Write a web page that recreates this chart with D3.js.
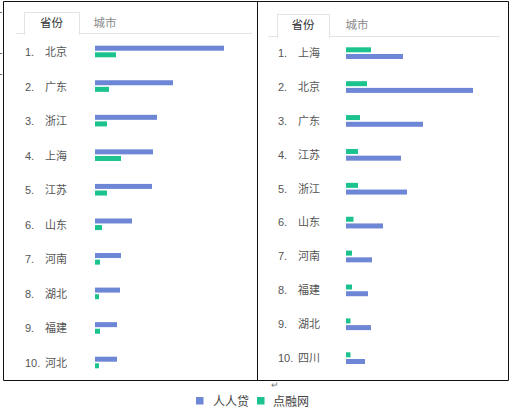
<!DOCTYPE html>
<html><head><meta charset="utf-8">
<script src="https://cdn.jsdelivr.net/npm/d3@7"></script>
<style>
html,body{margin:0;padding:0;background:#fff;}
svg{display:block;}
text{font-family:"Liberation Sans","Noto Sans CJK SC",sans-serif;}
</style></head>
<body>
<svg id="chart" width="514" height="412"></svg>
<script>
// ---- data ----
const seriesNames = ["人人贷", "点融网"];
const colors = ["#6e86d6", "#1dc38e"];
const tabLabels = ["省份", "城市"];

// left panel: ranked by 人人贷
const leftProvinces = ["北京", "广东", "浙江", "上海", "江苏", "山东", "河南", "湖北", "福建", "河北"];
const leftRenrendai = [129, 78, 62, 58, 57, 37, 26, 25, 22, 22];
const leftDianrong  = [21, 14, 12, 26, 12, 7, 5, 4, 5, 4];

// right panel: ranked by 点融网
const rightProvinces = ["上海", "北京", "广东", "江苏", "浙江", "山东", "河南", "福建", "湖北", "四川"];
const rightDianrong  = [25, 21, 14, 12, 12, 7.5, 6, 6, 4.5, 4.5];
const rightRenrendai = [57, 127, 77, 55, 61, 37, 26, 22, 25, 19];

const svg = d3.select("#chart");
const textColor = "#555";

// panel frames
const frame = svg.append("g").attr("fill", "none").attr("stroke", "#111").attr("stroke-width", 1);
frame.append("line").attr("x1", 3.5).attr("x2", 508.5).attr("y1", 1.5).attr("y2", 1.5);
frame.append("line").attr("x1", 3.5).attr("x2", 508.5).attr("y1", 380.5).attr("y2", 380.5);
frame.append("line").attr("x1", 3.5).attr("x2", 3.5).attr("y1", 1.5).attr("y2", 380.5);
frame.append("line").attr("x1", 257.5).attr("x2", 257.5).attr("y1", 1.5).attr("y2", 380.5);
frame.append("line").attr("x1", 508.5).attr("x2", 508.5).attr("y1", 1.5).attr("y2", 380.5);
// small marks at the left margin
[12, 53, 74].forEach(y => {
  svg.append("line").attr("x1", 0).attr("x2", 2).attr("y1", y + 0.5).attr("y2", y + 0.5)
    .attr("stroke", "#666").attr("stroke-width", 1);
});

function drawPanel(cfg) {
  const g = svg.append("g");
  // tabs
  g.append("line").attr("x1", cfg.lineX0).attr("x2", cfg.lineX1)
    .attr("y1", cfg.tabY1 + 0.5).attr("y2", cfg.tabY1 + 0.5)
    .attr("stroke", "#e3e3e3");
  g.append("rect").attr("x", cfg.tabX0 + 0.5).attr("y", cfg.tabY0 + 0.5)
    .attr("width", cfg.tabX1 - cfg.tabX0).attr("height", cfg.tabY1 - cfg.tabY0 + 1)
    .attr("fill", "#fff").attr("stroke", "#e3e3e3");
  g.append("rect").attr("x", cfg.tabX0 + 1).attr("y", cfg.tabY1 - 1)
    .attr("width", cfg.tabX1 - cfg.tabX0 - 1).attr("height", 3).attr("fill", "#fff");
  g.append("text").attr("x", (cfg.tabX0 + cfg.tabX1) / 2).attr("y", (cfg.tabY0 + cfg.tabY1) / 2)
    .attr("dy", "0.36em").attr("text-anchor", "middle").attr("font-size", 11.5)
    .attr("fill", "#333").text(tabLabels[0]);
  g.append("text").attr("x", cfg.tab2X).attr("y", (cfg.tabY0 + cfg.tabY1) / 2)
    .attr("dy", "0.36em").attr("text-anchor", "middle").attr("font-size", 11.5)
    .attr("fill", "#8a8a8a").text(tabLabels[1]);

  const y = d3.scalePoint().domain(cfg.names).range(cfg.yRange);
  const x = d3.scaleLinear().domain([0, 130]).range([cfg.barX, cfg.barX + 130]);

  const rows = g.selectAll("g.row").data(cfg.names).join("g").attr("class", "row");
  rows.append("text").attr("x", cfg.numX).attr("y", d => y(d)).attr("dy", "0.36em")
    .attr("font-size", 11).attr("fill", textColor).text((d, i) => (i + 1) + ".");
  rows.append("text").attr("x", cfg.nameX).attr("y", d => y(d)).attr("dy", "0.36em")
    .attr("font-size", 11).attr("fill", textColor).text(d => d);

  cfg.bars.forEach(b => {
    g.selectAll(null).data(b.values).join("rect")
      .attr("x", x(0))
      .attr("y", (d, i) => y(cfg.names[i]) + b.offset)
      .attr("width", d => x(d) - x(0))
      .attr("height", 5)
      .attr("fill", b.color);
  });
}

drawPanel({
  names: leftProvinces,
  yRange: [52, 363],
  numX: 25, nameX: 45, barX: 95,
  tabX0: 24, tabX1: 79, tabY0: 12, tabY1: 33, tab2X: 105,
  lineX0: 16, lineX1: 252,
  bars: [
    {values: leftRenrendai, color: colors[0], offset: -6.3},
    {values: leftDianrong, color: colors[1], offset: 0.3}
  ]
});

drawPanel({
  names: rightProvinces,
  yRange: [53, 358],
  numX: 278, nameX: 298, barX: 346,
  tabX0: 277, tabX1: 329, tabY0: 14, tabY1: 36, tab2X: 357,
  lineX0: 268, lineX1: 500,
  bars: [
    {values: rightDianrong, color: colors[1], offset: -5.7},
    {values: rightRenrendai, color: colors[0], offset: 1}
  ]
});

// paragraph mark
svg.append("text").attr("x", 271).attr("y", 388).attr("font-size", 9).attr("fill", "#777").text("↵");

// legend
const legend = svg.append("g");
const lx = [196, 257];
const tx = [213, 273];
seriesNames.forEach((s, i) => {
  legend.append("rect").attr("x", lx[i]).attr("y", 397).attr("width", 7.5).attr("height", 7.5).attr("fill", colors[i]);
  legend.append("text").attr("x", tx[i]).attr("y", 401.5).attr("dy", "0.36em")
    .attr("font-size", 12).attr("fill", "#444").text(s);
});
</script>
</body></html>
